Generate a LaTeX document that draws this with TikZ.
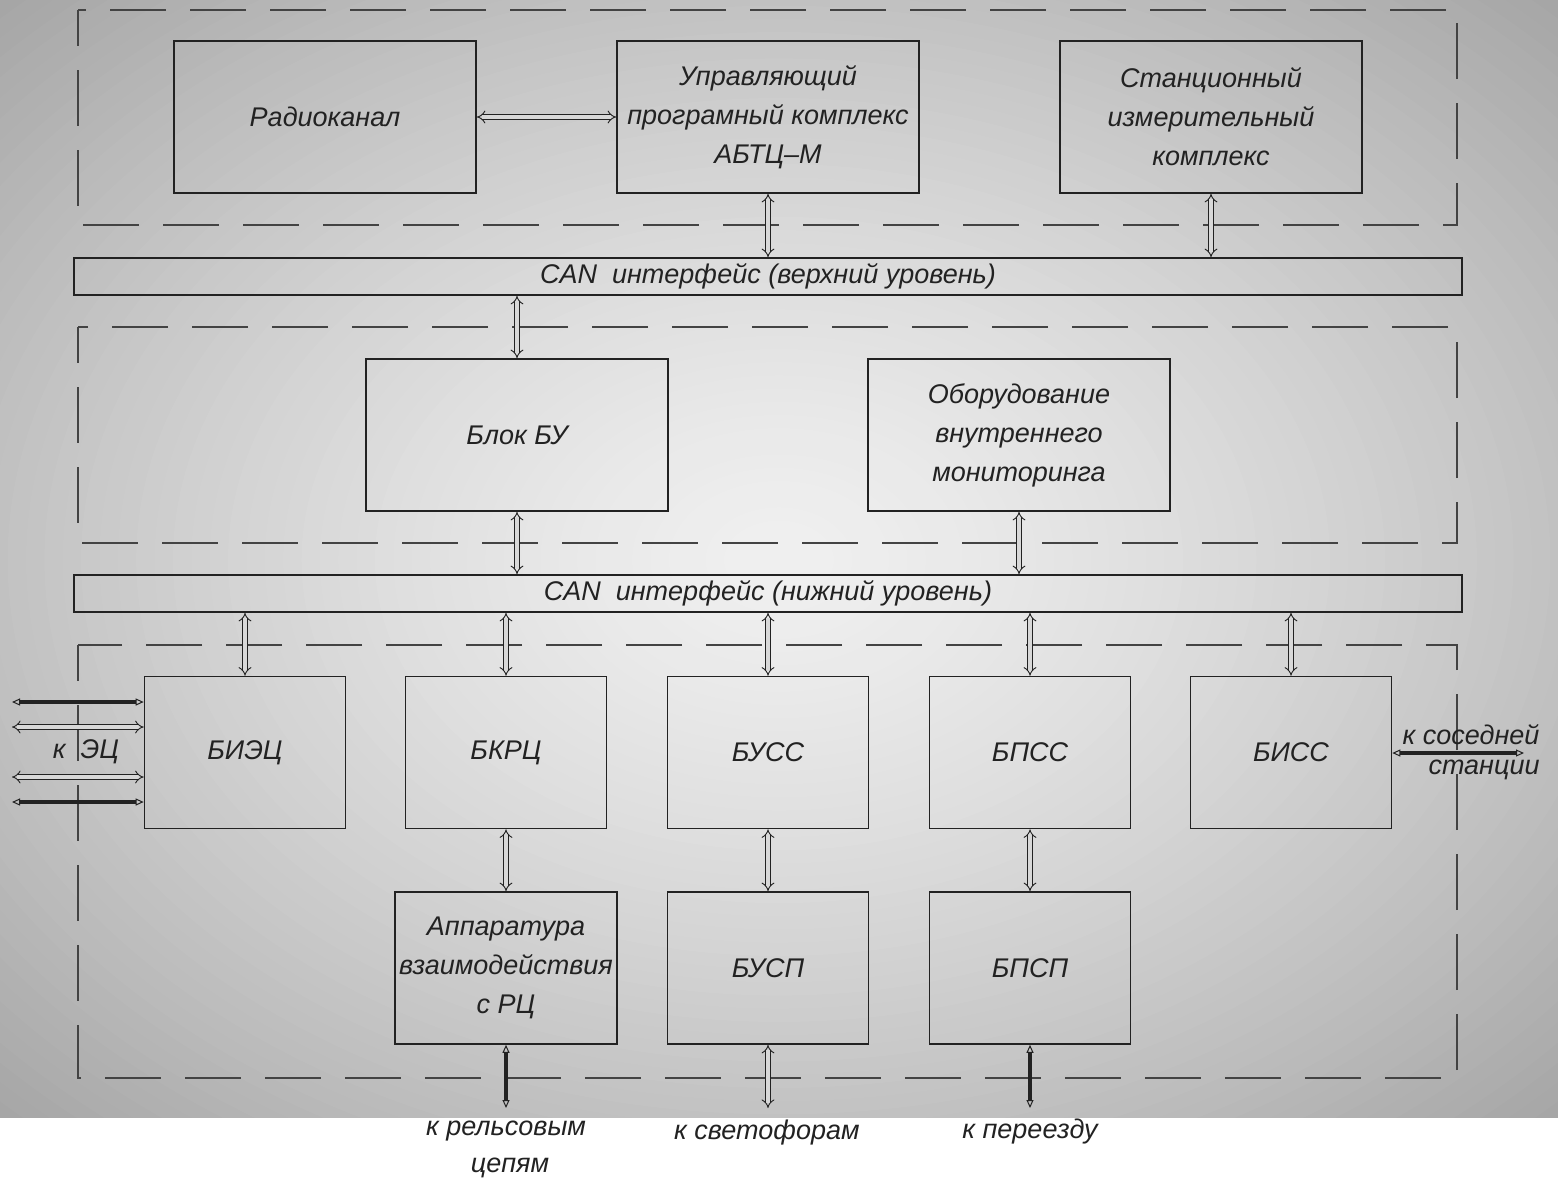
\documentclass[tikz,border=0pt]{standalone}
\usepackage{fontspec}
\setmainfont{Liberation Sans}
\usetikzlibrary{arrows.meta}
\definecolor{bgc}{HTML}{D8D8D8}
\definecolor{ink}{HTML}{222222}
\begin{document}
\begin{tikzpicture}[x=1pt,y=-1pt,
  every node/.style={font=\fontsize{27}{39}\selectfont\itshape, text=ink},
  box/.style={draw=ink, line width=1.6pt, minimum width=302pt, minimum height=152pt, inner sep=0pt, align=center},
  sbox/.style={box, minimum width=201pt},
  bar/.style={draw=ink, line width=1.6pt, minimum width=1388pt, minimum height=37pt, inner sep=0pt},
  frame/.style={draw=ink!85, line width=1.6pt, dash pattern=on 56pt off 24pt, dash phase=20pt},
  dbl/.style={draw=ink, line width=0.9pt, double=bgc, double distance=3.6pt, {Implies}-{Implies}},
  thk/.style={draw=ink, line width=3.6pt, {Triangle[open,length=8pt,width=7pt,line width=1pt]}-{Triangle[open,length=8pt,width=7pt,line width=1pt]}},
  lbl/.style={inner sep=0pt}
]
\useasboundingbox (0,0) rectangle (1558,1181);
\fill[white] (0,0) rectangle (1558,1181);
% background: concentric ellipses approximating a radial gradient
\begin{scope}
\clip (0,0) rectangle (1558,1117);
\foreach \i in {60,59,...,1}{
  \pgfmathsetmacro{\t}{\i/60}
  \pgfmathsetmacro{\v}{0.94-0.29*(\t^1.4)}
  \definecolor{cc}{gray}{\v}
  \fill[cc] (779,560) ellipse [x radius={1102*\t}, y radius={792*\t}];
}
\end{scope}

% dashed frames
\draw[frame] (78,10) rectangle (1457,225);
\draw[frame] (78,327) rectangle (1457,543);
\draw[frame] (78,645) rectangle (1457,1078);

% top level
\node[box] (radio) at (325,117) {Радиоканал};
\node[box] (ctrl) at (768,117) {Управляющий\\програмный комплекс\\АБТЦ–М};
\node[box] (meas) at (1211,117) {Станционный\\измерительный\\комплекс};

\node[bar] (canA) at (768,276.5) {CAN\ \ интерфейс\ (верхний\ уровень)};

\node[box] (bu) at (517,435) {Блок БУ};
\node[box] (mon) at (1019,435) {Оборудование\\внутреннего\\мониторинга};

\node[bar] (canB) at (768,593.5) {CAN\ \ интерфейс\ (нижний\ уровень)};

\node[sbox] (biec) at (245,752.5) {БИЭЦ};
\node[sbox] (bkrc) at (506,752.5) {БКРЦ};
\node[sbox] (buss) at (768,752.5) {БУСС};
\node[sbox] (bpss) at (1030,752.5) {БПСС};
\node[sbox] (biss) at (1291,752.5) {БИСС};

\node[box, minimum width=222pt] (app) at (506,968) {Аппаратура\\взаимодействия\\с РЦ};
\node[sbox] (busp) at (768,968) {БУСП};
\node[sbox] (bpsp) at (1030,968) {БПСП};

% connectors
\draw[dbl] (radio.east) -- (ctrl.west);
\draw[dbl] (ctrl.south) -- (ctrl.south |- canA.north);
\draw[dbl] (meas.south) -- (meas.south |- canA.north);
\draw[dbl] (canA.south -| bu.north) -- (bu.north);
\draw[dbl] (bu.south) -- (bu.south |- canB.north);
\draw[dbl] (mon.south) -- (mon.south |- canB.north);
\foreach \n in {biec,bkrc,buss,bpss,biss}
  \draw[dbl] (canB.south -| \n.north) -- (\n.north);
\draw[dbl] (bkrc.south) -- (app.north);
\draw[dbl] (buss.south) -- (busp.north);
\draw[dbl] (bpss.south) -- (bpsp.north);

% bottom outputs
\coordinate (o1) at (506,1108);
\coordinate (o2) at (768,1108);
\coordinate (o3) at (1030,1108);
\draw[thk] (app.south) -- (o1);
\draw[dbl] (busp.south) -- (o2);
\draw[thk] (bpsp.south) -- (o3);
\node[lbl] (t1) at (506,1131) {к рельсовым};
\node[lbl] (t1b) at (510,1168) {цепям};
\node[lbl] (t2) at (767,1133) {к светофорам};
\node[lbl] (t3) at (1030,1131) {к переезду};

% left side: к ЭЦ
\coordinate (l1) at (12,702);
\coordinate (l2) at (12,727);
\coordinate (l3) at (12,777);
\coordinate (l4) at (12,802);
\draw[thk] (l1) -- (l1 -| biec.west);
\draw[dbl] (l2) -- (l2 -| biec.west);
\draw[dbl] (l3) -- (l3 -| biec.west);
\draw[thk] (l4) -- (l4 -| biec.west);
\node[lbl] (kec) at (86,752) {к\ \ ЭЦ};

% right side: к соседней станции
\coordinate (r1) at (1524,753);
\draw[thk] (biss.east |- r1) -- (r1);
\node[lbl] (ks1) at (1471,735) {к\ соседней};
\node[lbl] (ks2) at (1484,770) {станции};
\end{tikzpicture}
\end{document}
